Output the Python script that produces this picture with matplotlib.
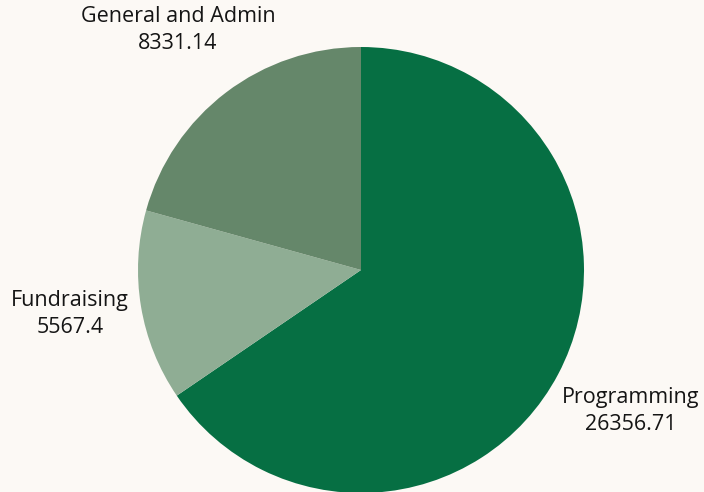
import matplotlib.pyplot as plt

# Expense breakdown
categories = ["Programming", "Fundraising", "General and Admin"]
values = [26356.71, 5567.4, 8331.14]
value_labels = ["26356.71", "5567.4", "8331.14"]
colors = ["#066f43", "#8fad94", "#65876a"]

plt.rcParams['font.family'] = ['Open Sans', 'DejaVu Sans']

fig = plt.figure(figsize=(7.04, 4.92), dpi=100)
fig.patch.set_facecolor("#fcf9f5")
ax = fig.add_axes([0, 0, 1, 1])
ax.set_facecolor("#fcf9f5")

ax.pie(values, colors=colors, startangle=90, counterclock=False,
       center=(361, 222), radius=223, frame=True,
       wedgeprops=dict(linewidth=0))

# pixel-like coordinates, y up
ax.set_xlim(0, 704)
ax.set_ylim(0, 492)
ax.set_aspect("equal")
ax.axis("off")

# label positions (text layout)
label_pos = {
    "Programming": (631, 81),
    "Fundraising": (70, 178),
    "General and Admin": (178, 462),
}
for name, val in zip(categories, value_labels):
    x, y = label_pos[name]
    ax.text(x, y, name + "\n" + val, ha="center", va="center",
            fontsize=15.5, color="#151515", linespacing=1.4)

fig.savefig("out.png", dpi=100, facecolor=fig.get_facecolor())
